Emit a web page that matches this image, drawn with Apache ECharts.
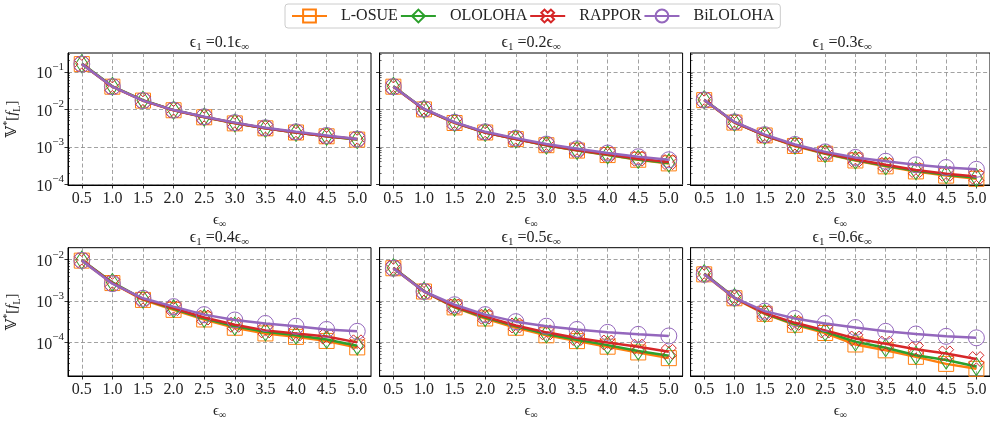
<!DOCTYPE html>
<html><head><meta charset="utf-8">
<script src="https://cdn.jsdelivr.net/npm/echarts@6/dist/echarts.min.js"></script>
<style>html,body{margin:0;padding:0;background:#fff}#c{width:990px;height:421px}</style>
</head><body><div id="c"></div>
<script>
// ---------- data ----------
const eps = [0.5, 1.0, 1.5, 2.0, 2.5, 3.0, 3.5, 4.0, 4.5, 5.0];
const ratios = ['0.1', '0.2', '0.3', '0.4', '0.5', '0.6'];
const seriesNames = ['L-OSUE', 'OLOLOHA', 'RAPPOR', 'BiLOLOHA'];
const topTicks = [1e-4, 1e-3, 1e-2, 1e-1];
const bottomTicks = [1e-4, 1e-3, 1e-2];

// eps1 = 0.1 eps_inf
const losue_01   = [0.160, 0.0400, 0.0170, 0.0094, 0.0061, 0.0042, 0.0031, 0.0024, 0.0019, 0.00155];
const ololoha_01 = [0.165, 0.0410, 0.0175, 0.0095, 0.0062, 0.0043, 0.0031, 0.0024, 0.0019, 0.00155];
const rappor_01  = [0.160, 0.0400, 0.0170, 0.0094, 0.0062, 0.0043, 0.0031, 0.0024, 0.0019, 0.0016];
const bilol_01   = [0.160, 0.0400, 0.0170, 0.0095, 0.0063, 0.0044, 0.0032, 0.0025, 0.0020, 0.0016];
// eps1 = 0.2 eps_inf
const losue_02   = [0.040, 0.0099, 0.0043, 0.0024, 0.0016, 0.00110, 0.00079, 0.00060, 0.00045, 0.00036];
const ololoha_02 = [0.041, 0.0100, 0.0044, 0.0024, 0.0016, 0.00110, 0.00080, 0.00061, 0.00046, 0.00037];
const rappor_02  = [0.040, 0.0100, 0.0044, 0.0024, 0.0016, 0.00112, 0.00082, 0.00063, 0.00048, 0.00039];
const bilol_02   = [0.040, 0.0102, 0.0045, 0.0025, 0.0017, 0.00118, 0.00088, 0.00068, 0.00054, 0.00045];
// eps1 = 0.3 eps_inf
const losue_03   = [0.0175, 0.0044, 0.0020, 0.00105, 0.00065, 0.00043, 0.00030, 0.00022, 0.00017, 0.00014];
const ololoha_03 = [0.0180, 0.0045, 0.0020, 0.00110, 0.00066, 0.00044, 0.00031, 0.00023, 0.00018, 0.00015];
const rappor_03  = [0.0177, 0.0045, 0.0020, 0.00110, 0.00068, 0.00046, 0.00033, 0.00024, 0.00019, 0.00016];
const bilol_03   = [0.0177, 0.0046, 0.0021, 0.00115, 0.00073, 0.00052, 0.00041, 0.00033, 0.00028, 0.00025];
// eps1 = 0.4 eps_inf
const losue_04   = [0.0095, 0.0027, 0.00105, 0.00060, 0.00035, 0.00022, 0.000160, 0.000132, 0.000105, 0.000073];
const ololoha_04 = [0.0098, 0.0028, 0.00110, 0.00064, 0.00037, 0.00024, 0.000175, 0.000145, 0.000114, 0.000080];
const rappor_04  = [0.0097, 0.0027, 0.00110, 0.00066, 0.00039, 0.00026, 0.000190, 0.000160, 0.000134, 0.000097];
const bilol_04   = [0.0096, 0.0026, 0.00115, 0.00072, 0.00046, 0.00034, 0.000280, 0.000240, 0.000200, 0.000180];
// eps1 = 0.5 eps_inf
const losue_05   = [0.0062, 0.00168, 0.00069, 0.00037, 0.00022, 0.000144, 0.000104, 0.000076, 0.000055, 0.000040];
const ololoha_05 = [0.0064, 0.00172, 0.00070, 0.00039, 0.00024, 0.000155, 0.000112, 0.000083, 0.000060, 0.000046];
const rappor_05  = [0.0063, 0.00170, 0.00072, 0.00041, 0.00025, 0.000170, 0.000124, 0.000096, 0.000076, 0.000057];
const bilol_05   = [0.0062, 0.00168, 0.00080, 0.00046, 0.00031, 0.000240, 0.000200, 0.000170, 0.000152, 0.000139];
// eps1 = 0.6 eps_inf
const losue_06   = [0.0044, 0.00115, 0.00048, 0.00026, 0.000164, 0.000086, 0.000062, 0.000043, 0.000029, 0.000022];
const ololoha_06 = [0.0046, 0.00120, 0.00049, 0.00027, 0.000175, 0.000100, 0.000072, 0.000047, 0.000036, 0.000025];
const rappor_06  = [0.0045, 0.00118, 0.00050, 0.00029, 0.000190, 0.000120, 0.000090, 0.000066, 0.000052, 0.000038];
const bilol_06   = [0.0044, 0.00118, 0.00056, 0.00037, 0.000280, 0.000223, 0.000180, 0.000155, 0.000136, 0.000125];

const panels = [
  [losue_01, ololoha_01, rappor_01, bilol_01],
  [losue_02, ololoha_02, rappor_02, bilol_02],
  [losue_03, ololoha_03, rappor_03, bilol_03],
  [losue_04, ololoha_04, rappor_04, bilol_04],
  [losue_05, ololoha_05, rappor_05, bilol_05],
  [losue_06, ololoha_06, rappor_06, bilol_06]
];

// ---------- style ----------
const FONT = '"Liberation Serif", "DejaVu Serif", serif';
const TXT = '#222';
const colors = ['#ff7f0e', '#2ca02c', '#d62728', '#9467bd'];
const xPath = 'path://M-4,-2L-2,-4L0,-2L2,-4L4,-2L2,0L4,2L2,4L0,2L-2,4L-4,2L-2,0Z';
const symbols = ['rect', 'diamond', xPath, 'circle'];
const symbolSizes = [15, [12, 18], 15, 16];

const lefts = [68, 379.6, 690.6];
const plotW = 303;
const rows = [{top: 53, h: 132, min: Math.pow(10, -4.02), max: Math.pow(10, -0.5), ticks: topTicks},
              {top: 247.7, h: 131.3, min: Math.pow(10, -4.833), max: Math.pow(10, -1.707), ticks: bottomTicks}];

function minorTicks(min, max) {
  const out = [];
  for (let e = -6; e <= 0; e++) for (let m = 2; m <= 9; m++) {
    const v = m * Math.pow(10, e);
    if (v > min && v < max) out.push(v);
  }
  return out;
}

const supRich = {
  b: {fontFamily: FONT, fontSize: 16, color: TXT, padding: [5, 0, 0, 0]},
  sup: {fontFamily: FONT, fontSize: 11, color: TXT, verticalAlign: 'top', lineHeight: 12}
};
const subRich = {
  b: {fontFamily: FONT, fontSize: 16, color: TXT, lineHeight: 20},
  sub: {fontFamily: FONT, fontSize: 11, color: TXT, verticalAlign: 'bottom', lineHeight: 12},
  it: {fontFamily: FONT, fontSize: 16, color: TXT, fontStyle: 'italic', lineHeight: 20}
};

const grid = [], xAxis = [], yAxis = [], series = [], title = [];
for (let p = 0; p < 6; p++) {
  const r = rows[Math.floor(p / 3)];
  const c = p % 3;
  grid.push({left: lefts[c], top: r.top, width: plotW, height: r.h, show: true,
             borderColor: '#000', borderWidth: 1, backgroundColor: 'transparent', containLabel: false});
  title.push({
    text: '{b|ϵ}{sub|1}{b| =' + ratios[p] + 'ϵ}{sub|∞}',
    left: lefts[c] + plotW / 2, top: r.top - 20, textAlign: 'center',
    textStyle: {rich: subRich, fontFamily: FONT, fontSize: 16, fontWeight: 'normal', color: TXT},
    padding: 0
  });
  xAxis.push({
    type: 'value', gridIndex: p, min: 0.275, max: 5.225,
    name: '{b|ϵ}{sub|∞}', nameLocation: 'middle', nameGap: 26,
    nameTextStyle: {rich: {b: {fontFamily: FONT, fontSize: 15, color: TXT, lineHeight: 18},
                           sub: {fontFamily: FONT, fontSize: 10, color: TXT, verticalAlign: 'bottom', lineHeight: 11}}},
    axisLine: {show: true, lineStyle: {color: '#000', width: 1}},
    axisTick: {show: true, customValues: eps, length: 3.5, inside: false, lineStyle: {color: '#000', width: 0.8}},
    axisLabel: {show: true, customValues: eps, formatter: v => v.toFixed(1), fontFamily: FONT, fontSize: 16, color: TXT, margin: 6},
    splitLine: {show: true, lineStyle: {color: '#8a8a8a', width: 0.8, type: [4, 2.5]}}
  });
  const yi = yAxis.length;
  yAxis.push({
    type: 'log', logBase: 10, gridIndex: p, min: r.min, max: r.max,
    name: c === 0 ? '{b|𝕍}{sup|*}{b|[}{it|f}{sub|L}{b|]}' : '',
    nameLocation: 'middle', nameGap: 46, nameRotate: 90,
    nameTextStyle: {rich: {
      b: {fontFamily: FONT, fontSize: 15, color: TXT, lineHeight: 20},
      it: {fontFamily: FONT, fontSize: 15, color: TXT, fontStyle: 'italic', lineHeight: 20},
      sup: {fontFamily: FONT, fontSize: 10, color: TXT, verticalAlign: 'top', lineHeight: 10},
      sub: {fontFamily: FONT, fontSize: 10, color: TXT, verticalAlign: 'bottom', lineHeight: 10}}},
    axisLine: {show: true, lineStyle: {color: '#000', width: 1}},
    axisTick: {show: true, customValues: r.ticks, length: 3.5, inside: false, lineStyle: {color: '#000', width: 0.8}},
    axisLabel: {show: c === 0, customValues: r.ticks, margin: 4,
                formatter: v => '{b|10}{sup|−' + Math.round(-Math.log10(v)) + '}', rich: supRich},
    splitLine: {show: true, lineStyle: {color: '#8a8a8a', width: 0.8, type: [4, 2.5]}}
  });
  yAxis.push({
    type: 'log', logBase: 10, gridIndex: p, min: r.min, max: r.max, position: 'left',
    axisLine: {show: false},
    axisTick: {show: true, customValues: minorTicks(r.min, r.max), length: 2, inside: true, lineStyle: {color: '#000', width: 0.6}},
    axisLabel: {show: false},
    splitLine: {show: false}
  });
  for (let s = 0; s < 4; s++) {
    series.push({
      type: 'line', name: seriesNames[s], xAxisIndex: p, yAxisIndex: yi,
      data: eps.map((e, i) => [e, panels[p][s][i]]),
      symbol: symbols[s], symbolSize: symbolSizes[s], showAllSymbol: true,
      lineStyle: {color: colors[s], width: 2.5},
      itemStyle: {color: 'rgba(255,255,255,0)', borderColor: colors[s], borderWidth: 1},
      emphasis: {disabled: true}, animation: false, clip: false, z: 2 + s
    });
  }
}

const chart = echarts.init(document.getElementById('c'), null, {renderer: 'canvas'});
chart.setOption({
  animation: false,
  backgroundColor: '#fff',
  title: title,
  legend: {
    data: seriesNames, left: 285, top: 4, padding: [4, 6], itemGap: 2,
    itemWidth: 35, itemHeight: 16,
    borderColor: '#ccc', borderWidth: 1, borderRadius: 3,
    textStyle: {fontFamily: FONT, fontSize: 16, color: TXT, padding: [0, 0, 0, 9]}
  },
  grid: grid, xAxis: xAxis, yAxis: yAxis, series: series
});
</script></body></html>
